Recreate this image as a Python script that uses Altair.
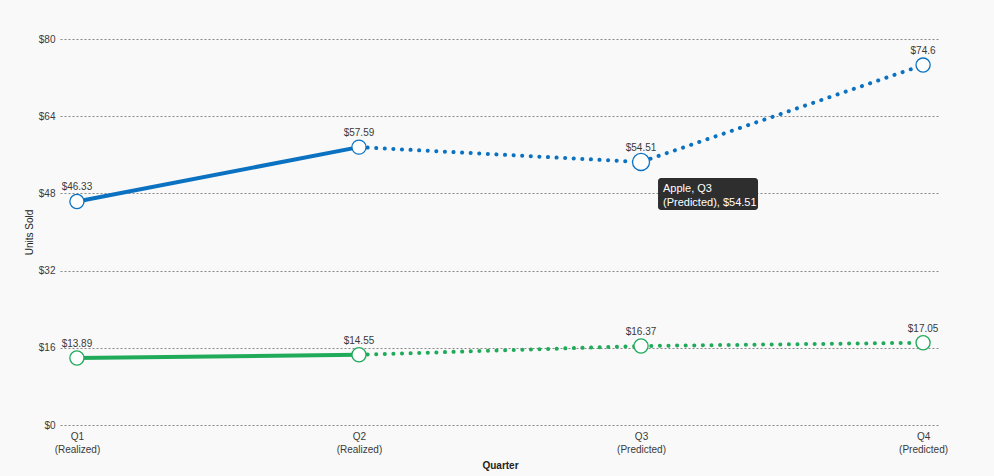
import altair as alt
import pandas as pd

quarters = ["Q1 (Realized)", "Q2 (Realized)", "Q3 (Predicted)", "Q4 (Predicted)"]
apple = [46.33, 57.59, 54.51, 74.6]
samsung = [13.89, 14.55, 16.37, 17.05]
series_names = ["Apple", "Samsung"]
series_colors = ["#0b72c2", "#20ab5b"]
y_ticks = [0, 16, 32, 48, 64, 80]

rows = []
for name, vals in zip(series_names, [apple, samsung]):
    for i, (q, v) in enumerate(zip(quarters, vals)):
        rows.append({"series": name, "quarter": q, "value": v, "idx": i,
                     "label": "$" + format(v, "g")})
df = pd.DataFrame(rows)

hl_series, hl_idx = "Apple", 2
hl = df[(df.series == hl_series) & (df.idx == hl_idx)].copy()
hl["tip"] = hl.apply(lambda r: f"{r.series}, {r.quarter.split(' ')[0]}\n{r.quarter.split(' ')[1]}, {r.label}", axis=1)

FONT = "Liberation Sans"
TXT = "#3a3a3a"

x_enc = alt.X("quarter:N", sort=quarters, title="Quarter",
              scale=alt.Scale(type="point", padding=0.06),
              axis=alt.Axis(labelExpr="split(datum.label, ' ')", labelAngle=0,
                            labelFontSize=10, labelColor=TXT, labelLineHeight=13,
                            labelPadding=6, ticks=False, domain=False, grid=False,
                            titleFontSize=10, titleFontWeight="bold", titleColor="#222",
                            titlePadding=6))
y_enc = alt.Y("value:Q", title="Units Sold",
              scale=alt.Scale(domain=[0, 80], nice=False),
              axis=alt.Axis(values=y_ticks, format="$d", labelFontSize=10, labelColor=TXT,
                            labelPadding=5, ticks=False, domain=False,
                            grid=True, gridDash=[2, 2], gridColor="#888", gridWidth=1,
                            titleFontSize=10, titleFontWeight="normal", titleColor="#222",
                            titlePadding=4))
color_enc = alt.Color("series:N", scale=alt.Scale(domain=series_names, range=series_colors),
                      legend=None)

base = alt.Chart(df).encode(x=x_enc, y=y_enc, color=color_enc)

solid = base.transform_filter("datum.idx <= 1").mark_line(strokeWidth=4)
dotted = base.transform_filter("datum.idx >= 1").mark_line(
    strokeWidth=4, strokeDash=[0.1, 8.5], strokeCap="round")
points = base.transform_filter(
    f"!(datum.series == '{hl_series}' && datum.idx == {hl_idx})"
).mark_point(filled=True, fill="white", size=200, strokeWidth=1.3, opacity=1).encode(
    stroke=alt.Stroke("series:N", scale=alt.Scale(domain=series_names, range=series_colors),
                      legend=None),
    tooltip=["series:N", "quarter:N", alt.Tooltip("value:Q", format="$")])
labels = base.mark_text(baseline="bottom", dy=-9, fontSize=10, font=FONT).encode(
    text="label:N", color=alt.value(TXT))

hbase = alt.Chart(hl).encode(
    x=alt.X("quarter:N", sort=quarters), y=alt.Y("value:Q"))
hpoint = hbase.mark_point(filled=True, fill="white", size=290, strokeWidth=1.3,
                          opacity=1, stroke=series_colors[0])
box_path = ("M0.40,0.32 H2.28 A0.06,0.06 0 0 1 2.34,0.38 V0.90 "
            "A0.06,0.06 0 0 1 2.28,0.96 H0.40 A0.06,0.06 0 0 1 0.34,0.90 "
            "V0.38 A0.06,0.06 0 0 1 0.40,0.32 Z")
hbox = hbase.mark_point(shape=box_path, size=10000, filled=True, fill="#2e2e2e",
                        opacity=1, strokeWidth=0)
htext = hbase.mark_text(align="left", baseline="top", dx=22, dy=21, fontSize=11,
                        font=FONT, color="white", lineBreak="\n",
                        lineHeight=14).encode(text="tip:N")

chart = alt.layer(solid, dotted, points, labels, hpoint, hbox, htext).properties(
    width=880, height=386,
    autosize=alt.AutoSizeParams(type="none"),
    padding={"left": 60, "top": 39, "right": 54, "bottom": 51},
    background="#f9f9f9",
).configure(font=FONT).configure_view(stroke="transparent", strokeWidth=0)

chart.save("out.html", embed_options={"renderer": "svg", "actions": False})
